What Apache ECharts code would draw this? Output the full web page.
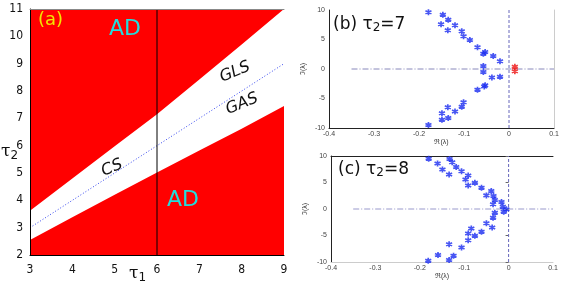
<!DOCTYPE html>
<html>
<head>
<meta charset="utf-8">
<script src="https://cdn.jsdelivr.net/npm/echarts@6/dist/echarts.min.js"></script>
<style>html,body{margin:0;padding:0;background:#fff}#c{width:581px;height:286px}</style>
</head>
<body>
<div id="c"></div>
<script>
// Panel (a): phase diagram boundaries
const tau1Grid = [3, 4, 5, 6, 7, 8, 9];
const upperBoundary = [3.62, 4.8, 5.98, 7.15, 8.42, 9.7, 11.0];
const lowerBoundary = [2.55, 3.38, 4.2, 5.02, 5.82, 6.62, 7.45];
const diagX = [3, 9];
const diagY = [3, 9];
const markTau1 = 6;
const tau1Ticks = [3, 4, 5, 6, 7, 8, 9];
const tau2Ticks = [2, 3, 4, 5, 6, 7, 8, 9, 10, 11];

// Panel (b): eigenvalues for tau2 = 7
const tau7Stable = [
  [-0.179, 9.6], [-0.147, 9.2], [-0.135, 8.35], [-0.151, 7.6], [-0.12, 7.4],
  [-0.136, 6.55], [-0.105, 6.4], [-0.101, 5.55], [-0.087, 4.9], [-0.07, 3.7],
  [-0.053, 2.9], [-0.057, 2.6], [-0.035, 2.2], [-0.02, 1.3], [-0.057, 0.5],
  [-0.057, -0.5], [-0.02, -1.3], [-0.038, -1.45], [-0.053, -2.75], [-0.055, -2.95],
  [-0.07, -3.5], [-0.101, -5.65], [-0.105, -6.4], [-0.136, -6.5], [-0.12, -7.2],
  [-0.149, -7.5], [-0.135, -8.3], [-0.149, -8.6], [-0.179, -9.5]
];
const tau7Unstable = [[0.013, 0.4], [0.013, -0.4]];

// Panel (c): eigenvalues for tau2 = 8
const tau8Stable = [
  [-0.18, 9.5], [-0.133, 9.44], [-0.16, 8.57], [-0.127, 8.8], [-0.118, 7.94],
  [-0.149, 7.45], [-0.106, 7.13], [-0.134, 6.5], [-0.091, 6.32], [-0.097, 5.57],
  [-0.076, 4.93], [-0.091, 4.44], [-0.061, 4.0], [-0.039, 3.38], [-0.05, 2.57],
  [-0.034, 2.44], [-0.031, 1.69], [-0.016, 1.31], [-0.035, 0.88], [-0.013, 0.44],
  [-0.005, -0.06], [-0.031, -0.69], [-0.011, -0.5], [-0.035, -1.63], [-0.05, -2.69],
  [-0.037, -3.5], [-0.084, -3.69], [-0.061, -4.31], [-0.091, -4.63], [-0.076, -5.07],
  [-0.091, -5.88], [-0.106, -7.25], [-0.134, -6.63], [-0.124, -8.8], [-0.159, -8.69],
  [-0.134, -9.63], [-0.181, -9.76]
];
const reTicks = [-0.4, -0.3, -0.2, -0.1, 0, 0.1];
const imTicks = [-10, -5, 0, 5, 10];

const zip = (a, b) => a.map((v, i) => [v, b[i]]);
const star = 'path://M5,0L5,10M0.67,2.5L9.33,7.5M0.67,7.5L9.33,2.5';
const tickFont = '"Liberation Sans Narrow","DejaVu Sans Condensed","Liberation Sans",sans-serif';
const smallAxisLabel = {fontSize: 7, color: '#444', fontFamily: 'Liberation Sans,sans-serif'};

const chart = echarts.init(document.getElementById('c'), null, {renderer: 'canvas'});

function eigX(gi) {
  return {
    type: 'value', gridIndex: gi, min: reTicks[0], max: reTicks[reTicks.length - 1], interval: 0.1,
    axisLine: {show: true, onZero: false, lineStyle: {color: gi === 1 ? '#222' : '#ccc', width: 1}},
    axisTick: {show: false}, splitLine: {show: false},
    axisLabel: Object.assign({margin: 3, formatter: v => String(Math.round(v * 10) / 10)}, smallAxisLabel),
    name: 'ℜ(λ)', nameLocation: 'middle', nameGap: 11,
    nameTextStyle: {fontSize: 7, color: '#333'}
  };
}
function eigY(gi) {
  return {
    type: 'value', gridIndex: gi, min: imTicks[0], max: imTicks[imTicks.length - 1], interval: 5,
    axisLine: {show: true, onZero: false, lineStyle: {color: '#222', width: 1}},
    axisTick: {show: false}, splitLine: {show: false},
    axisLabel: Object.assign({margin: 4}, smallAxisLabel),
    name: 'ℑ(λ)', nameLocation: 'middle', nameGap: 22, nameRotate: 90,
    nameTextStyle: {fontSize: 7, color: '#333'}
  };
}

const option = {
  animation: false,
  grid: [
    {left: 30, top: 9, width: 254, height: 246},
    {left: 329, top: 10, width: 225, height: 118},
    {left: 331, top: 156, width: 222, height: 106}
  ],
  xAxis: [
    {
      type: 'value', gridIndex: 0, min: tau1Ticks[0], max: tau1Ticks[tau1Ticks.length - 1], interval: 1,
      axisLine: {show: true, onZero: false, lineStyle: {color: '#000', width: 1}}, z: 20,
      axisTick: {show: false}, splitLine: {show: false},
      axisLabel: {fontSize: 12, color: '#111', margin: 9, fontFamily: tickFont}
    },
    {
      type: 'value', gridIndex: 0, position: 'top', min: 3, max: 9, interval: 1,
      axisLine: {show: true, onZero: false, lineStyle: {color: '#888', width: 1}}, z: 20,
      axisTick: {show: false}, axisLabel: {show: false}, splitLine: {show: false}
    },
    eigX(1), eigX(2),
    {
      type: 'value', gridIndex: 1, position: 'top', min: -0.4, max: 0.1,
      axisLine: {show: false}, axisTick: {show: false}, axisLabel: {show: false}, splitLine: {show: false}
    },
    {
      type: 'value', gridIndex: 2, position: 'top', min: -0.4, max: 0.1,
      axisLine: {show: true, onZero: false, lineStyle: {color: '#222'}}, axisTick: {show: false},
      axisLabel: {show: false}, splitLine: {show: false}
    }
  ],
  yAxis: [
    {
      type: 'value', gridIndex: 0, min: tau2Ticks[0], max: tau2Ticks[tau2Ticks.length - 1], interval: 1,
      axisLine: {show: true, onZero: false, lineStyle: {color: '#000', width: 1}}, z: 20,
      axisTick: {show: false}, splitLine: {show: false},
      axisLabel: {fontSize: 12, color: '#111', margin: 7, fontFamily: tickFont}
    },
    {
      type: 'value', gridIndex: 0, position: 'right', min: 2, max: 11, interval: 1,
      axisLine: {show: false}, axisTick: {show: false},
      axisLabel: {show: false}, splitLine: {show: false}
    },
    eigY(1), eigY(2),
    {
      type: 'value', gridIndex: 1, position: 'right', min: -10, max: 10, interval: 5,
      axisLine: {show: true, onZero: false, lineStyle: {color: '#ccc'}}, axisTick: {show: false},
      axisLabel: {show: false}, splitLine: {show: false}
    },
    {
      type: 'value', gridIndex: 2, position: 'right', min: -10, max: 10, interval: 5,
      axisLine: {show: false}, axisTick: {show: true, inside: true, length: 3, lineStyle: {color: '#666'}},
      axisLabel: {show: false}, splitLine: {show: false}
    }
  ],
  series: [
    {
      type: 'line', xAxisIndex: 0, yAxisIndex: 0, data: zip(tau1Grid, lowerBoundary),
      symbol: 'none', lineStyle: {width: 0}, areaStyle: {color: '#ff0000', opacity: 1, origin: 'start'}, z: 10
    },
    {
      type: 'line', xAxisIndex: 0, yAxisIndex: 0, data: zip(tau1Grid, upperBoundary),
      symbol: 'none', lineStyle: {width: 0}, areaStyle: {color: '#ff0000', opacity: 1, origin: 'end'}, z: 10
    },
    {
      type: 'line', xAxisIndex: 0, yAxisIndex: 0, data: zip(diagX, diagY),
      symbol: 'none', lineStyle: {color: '#3344ee', width: 1, type: [1, 2]}, z: 11
    },
    {
      type: 'line', xAxisIndex: 0, yAxisIndex: 0, data: [[markTau1, tau2Ticks[0]], [markTau1, tau2Ticks[tau2Ticks.length - 1]]],
      symbol: 'none', lineStyle: {color: '#000', width: 1}, z: 12
    },
    // panel b reference lines
    {
      type: 'line', xAxisIndex: 2, yAxisIndex: 2, data: [[0, -10], [0, 10]],
      symbol: 'none', lineStyle: {color: '#6666bb', width: 1, type: [3, 2]}, z: 1
    },
    {
      type: 'line', xAxisIndex: 2, yAxisIndex: 2, data: [[-0.35, 0], [0.1, 0]],
      symbol: 'none', lineStyle: {color: '#8888bb', width: 1, type: [6, 2, 1, 2]}, z: 1
    },
    {
      type: 'scatter', xAxisIndex: 2, yAxisIndex: 2, data: tau7Stable, symbol: star, symbolSize: 6,
      itemStyle: {color: 'rgba(0,0,0,0)', borderColor: '#1a2cf0', borderWidth: 1.7}, z: 3
    },
    {
      type: 'scatter', xAxisIndex: 2, yAxisIndex: 2, data: tau7Unstable, symbol: star, symbolSize: 6,
      itemStyle: {color: 'rgba(0,0,0,0)', borderColor: '#ee1111', borderWidth: 1.7}, z: 3
    },
    // panel c reference lines
    {
      type: 'line', xAxisIndex: 3, yAxisIndex: 3, data: [[0, -10], [0, 10]],
      symbol: 'none', lineStyle: {color: '#6666bb', width: 1, type: [3, 2]}, z: 1
    },
    {
      type: 'line', xAxisIndex: 3, yAxisIndex: 3, data: [[-0.35, 0], [0.1, 0]],
      symbol: 'none', lineStyle: {color: '#9999cc', width: 1, type: [6, 2, 1, 2]}, z: 1
    },
    {
      type: 'scatter', xAxisIndex: 3, yAxisIndex: 3, data: tau8Stable, symbol: star, symbolSize: 6,
      itemStyle: {color: 'rgba(0,0,0,0)', borderColor: '#1a2cf0', borderWidth: 1.7}, z: 3
    }
  ],
  graphic: [
    {type: 'text', left: 38, top: 11, z: 30, style: {text: '(a)', fontSize: 18, fill: '#f2e600', fontFamily: 'DejaVu Sans,sans-serif'}},
    {type: 'text', left: 109, top: 18, z: 30, style: {text: 'AD', fontSize: 22, fill: '#22dddd', fontFamily: 'DejaVu Sans,sans-serif'}},
    {type: 'text', left: 167, top: 189, z: 30, style: {text: 'AD', fontSize: 22, fill: '#22dddd', fontFamily: 'DejaVu Sans,sans-serif'}},
    {type: 'text', x: 112, y: 168, rotation: 0.4, z: 30, style: {text: 'CS', fontSize: 16, fill: '#111', fontStyle: 'italic', align: 'center', verticalAlign: 'middle', fontFamily: 'DejaVu Sans,sans-serif'}},
    {type: 'text', x: 235, y: 72, rotation: 0.4, z: 30, style: {text: 'GLS', fontSize: 16, fill: '#111', fontStyle: 'italic', align: 'center', verticalAlign: 'middle', fontFamily: 'DejaVu Sans,sans-serif'}},
    {type: 'text', x: 242, y: 104, rotation: 0.4, z: 30, style: {text: 'GAS', fontSize: 16, fill: '#111', fontStyle: 'italic', align: 'center', verticalAlign: 'middle', fontFamily: 'DejaVu Sans,sans-serif'}},
    {type: 'text', left: 1, top: 143, z: 30, style: {text: '{t|τ}{s|2}', rich: {t: {fontSize: 17, fill: '#111', fontFamily: 'DejaVu Serif,serif'}, s: {fontSize: 12, fill: '#111', padding: [8, 0, 0, 0], fontFamily: 'DejaVu Sans,sans-serif'}}}},
    {type: 'text', left: 129, top: 265, z: 30, style: {text: '{t|τ}{s|1}', rich: {t: {fontSize: 17, fill: '#111', fontFamily: 'DejaVu Serif,serif'}, s: {fontSize: 12, fill: '#111', padding: [8, 0, 0, 0], fontFamily: 'DejaVu Sans,sans-serif'}}}},
    {type: 'text', left: 333, top: 16, z: 30, style: {text: '{a|(b) τ}{s|2}{a|=7}', rich: {a: {fontSize: 17, fill: '#111', fontFamily: 'DejaVu Sans,sans-serif'}, s: {fontSize: 12, fill: '#111', padding: [6, 0, 0, 0], fontFamily: 'DejaVu Sans,sans-serif'}}}},
    {type: 'text', left: 338, top: 161, z: 30, style: {text: '{a|(c) τ}{s|2}{a|=8}', rich: {a: {fontSize: 17, fill: '#111', fontFamily: 'DejaVu Sans,sans-serif'}, s: {fontSize: 12, fill: '#111', padding: [6, 0, 0, 0], fontFamily: 'DejaVu Sans,sans-serif'}}}}
  ]
};
chart.setOption(option);
</script>
</body>
</html>
